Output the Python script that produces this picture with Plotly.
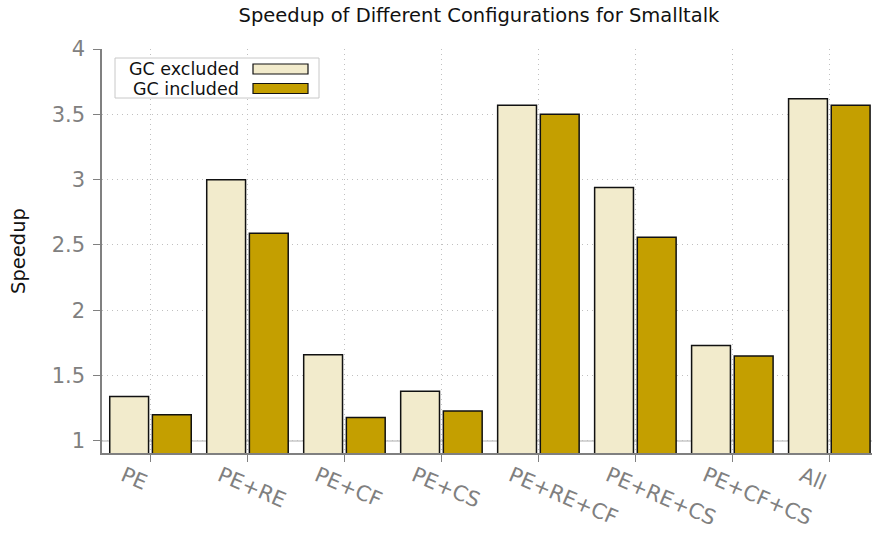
import plotly.graph_objects as go

# Speedup per configuration, with and without garbage-collection time
configs = ["PE", "PE+RE", "PE+CF", "PE+CS", "PE+RE+CF", "PE+RE+CS", "PE+CF+CS", "All"]
gc_excluded = [1.34, 3.00, 1.66, 1.38, 3.57, 2.94, 1.73, 3.62]
gc_included = [1.20, 2.59, 1.18, 1.23, 3.50, 2.56, 1.65, 3.57]
y_ticks = [1, 1.5, 2, 2.5, 3, 3.5, 4]
y_tick_text = ["1", "1.5", "2", "2.5", "3", "3.5", "4"]

COL_EXCL = "#f2ebcc"
COL_INCL = "#c49f00"
GRAY = "#808080"
GRID = "#c0c0c0"
FONT = "DejaVu Sans"

fig = go.Figure()
fig.add_trace(go.Bar(x=configs, y=gc_excluded, name="GC excluded",
                     marker=dict(color=COL_EXCL, line=dict(color="#111111", width=1.5))))
fig.add_trace(go.Bar(x=configs, y=gc_included, name="GC included",
                     marker=dict(color=COL_INCL, line=dict(color="#111111", width=1.5))))

# horizontal reference line at speedup 1
fig.add_shape(type="line", xref="paper", yref="y", x0=0, x1=1, y0=1, y1=1,
              line=dict(color="#c8c8c8", width=1.5), layer="below")

# hand-built legend: label on the left, swatch on the right
fig.add_shape(type="rect", xref="paper", yref="paper",
              x0=(115 - 102) / 770, x1=(319 - 102) / 770,
              y0=(453 - 98) / 404, y1=(453 - 58) / 404,
              line=dict(color="#c8c8c8", width=1), fillcolor="white", layer="above")
for name, col, ytop, ybot in [("GC excluded", COL_EXCL, 64, 74), ("GC included", COL_INCL, 83.5, 93.5)]:
    fig.add_shape(type="rect", xref="paper", yref="paper",
                  x0=(253 - 102) / 770, x1=(308 - 102) / 770,
                  y0=(453 - ybot) / 404, y1=(453 - ytop) / 404,
                  line=dict(color="#111111", width=1.2), fillcolor=col, layer="above")
    fig.add_annotation(xref="paper", yref="paper", x=(241 - 102) / 770,
                       y=(453 - (ytop + ybot) / 2) / 404, text=name, showarrow=False,
                       xanchor="right", yanchor="middle",
                       font=dict(family=FONT, size=17.5, color="#111111"))

fig.update_layout(
    width=872, height=533,
    margin=dict(l=102, r=0, t=49, b=80),
    paper_bgcolor="white", plot_bgcolor="white",
    barmode="group", bargap=0.12, bargroupgap=0.09,
    showlegend=False,
    font=dict(family=FONT),
    title=dict(text="Speedup of Different Configurations for Smalltalk",
               x=479 / 872, xanchor="center", y=1 - 15 / 533, yanchor="middle",
               font=dict(family=FONT, size=19.5, color="#111111")),
)
fig.update_yaxes(
    range=[0.908, 4.0], tickvals=y_ticks, ticktext=y_tick_text, automargin=False,
    showline=True, linecolor=GRAY, linewidth=1.5,
    ticks="outside", ticklen=7, tickcolor=GRAY, tickwidth=1.2,
    tickfont=dict(family=FONT, size=21, color=GRAY), ticklabelstandoff=4,
    showgrid=True, gridcolor=GRID, griddash="1px,4px", gridwidth=1,
    zeroline=False,
    title=dict(text="Speedup", font=dict(family=FONT, size=19.5, color="#111111"), standoff=21),
)
fig.update_xaxes(
    range=[-0.5, 7.44], automargin=False,
    showline=True, linecolor=GRAY, linewidth=1.5,
    ticks="outside", ticklen=7, tickcolor=GRAY, tickwidth=1.2,
    tickangle=23, ticklabelshift=-27, ticklabelstandoff=-6,
    tickfont=dict(family=FONT, size=21, color=GRAY),
    showgrid=True, gridcolor=GRID, griddash="1px,4px", gridwidth=1,
)

fig.write_html("out.html")
